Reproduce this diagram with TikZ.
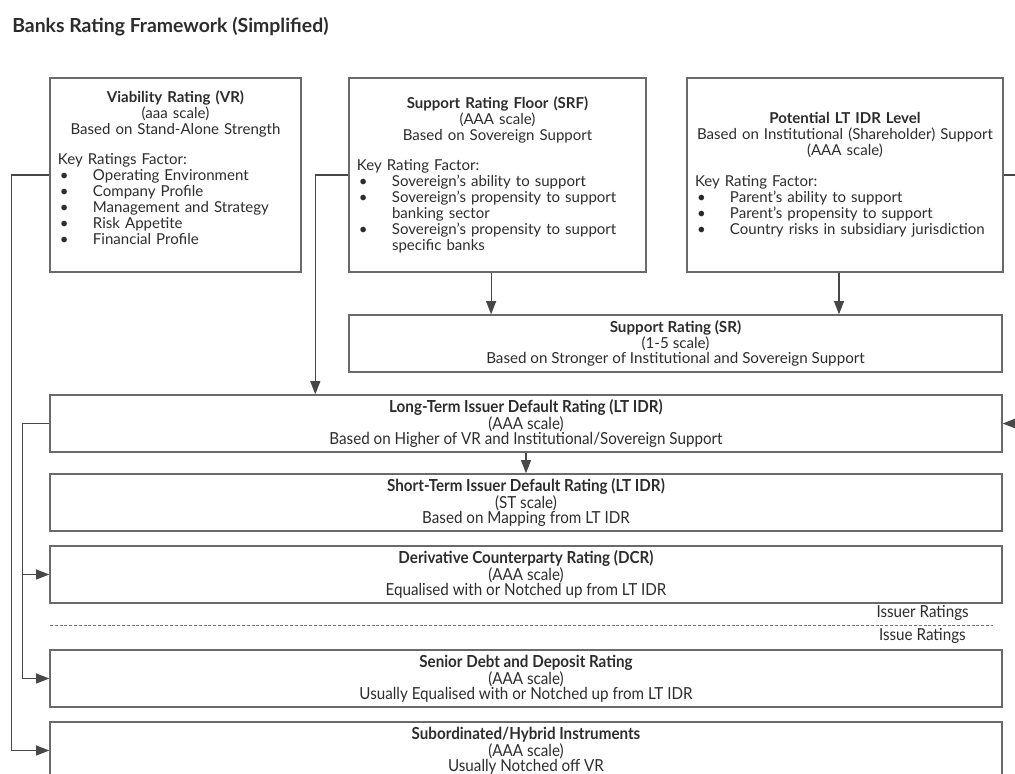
\documentclass[tikz,border=0pt]{standalone}
\usepackage{fontspec}
\setmainfont{Lato}
\newfontfamily\condfont[FakeStretch=0.915]{Lato}
\usetikzlibrary{arrows.meta}
\definecolor{txtgray}{HTML}{2C2C2C}
\definecolor{linegray}{HTML}{6A6A6A}
% bullet item with hanging indent
\newcommand\bul[1]{\par\noindent\hangindent=8.75mm\hangafter=1\makebox[8.75mm][l]{\hspace{0.5mm}\textbullet}#1}
\begin{document}
\begin{tikzpicture}[x=0.25mm,y=-0.25mm,
  topbox/.style={draw=linegray,line width=0.35mm,inner xsep=2mm,inner ysep=0pt,minimum height=48.5mm,align=left,text=txtgray,font=\fontsize{10.7}{11.4}\selectfont},
  lowbox/.style={draw=linegray,line width=0.35mm,minimum width=238mm,minimum height=14.25mm,inner sep=0pt,align=center,text=txtgray,font=\condfont\fontsize{11.8}{10.7}\selectfont},
  srbox/.style={lowbox,minimum width=163.25mm,font=\fontsize{10.8}{10.9}\selectfont},
  lbl/.style={anchor=east,inner sep=0pt,text=txtgray,font=\condfont\fontsize{11.8}{12}\selectfont},
  arr/.style={draw=black!72,line width=0.3mm,-{Triangle[length=3.3mm,width=2.5mm]}},
  link/.style={draw=black!72,line width=0.3mm}]
\path[use as bounding box,clip](0,0)rectangle(1015,774);
\node[anchor=west,inner sep=0pt,text=txtgray,font=\fontsize{13.8}{15}\selectfont\bfseries](title)at(12,27){Banks Rating Framework (Simplified)};
% top row
\node[topbox,text width=58.75mm,minimum width=62.75mm](vr)at(175.5,175){%
{\centering\textbf{Viability Rating (VR)}\par (aaa scale)\par Based on Stand-Alone Strength\par}
\vspace{3.6mm}Key Ratings Factor:
\bul{Operating Environment}
\bul{Company Profile}
\bul{Management and Strategy}
\bul{Risk Appetite}
\bul{Financial Profile}\par\vspace*{3.75mm}};
\node[topbox,text width=70.25mm,minimum width=74.25mm](srf)at(497.5,175){%
{\centering\textbf{Support Rating Floor (SRF)}\par (AAA scale)\par Based on Sovereign Support\par}
\vspace{3.6mm}Key Rating Factor:
\bul{Sovereign’s ability to support}
\bul{Sovereign’s propensity to support\newline banking sector}
\bul{Sovereign’s propensity to support\newline specific banks}\par};
\node[topbox,text width=75mm,minimum width=79mm](pot)at(845,175){%
{\centering\textbf{Potential LT IDR Level}\par Based on Institutional (Shareholder) Support\par (AAA scale)\par}
\vspace{3.6mm}Key Rating Factor:
\bul{Parent’s ability to support}
\bul{Parent’s propensity to support}
\bul{Country risks in subsidiary jurisdiction}\par};
% support rating
\node[srbox](sr)at(675.5,343.5){\textbf{Support Rating (SR)}\\(1-5 scale)\\Based on Stronger of Institutional and Sovereign Support};
% issuer ratings
\node[lowbox](lt)at(526,423.5){\textbf{Long-Term Issuer Default Rating (LT IDR)}\\(AAA scale)\\Based on Higher of VR and Institutional/Sovereign Support};
\node[lowbox](st)at(526,502.5){\textbf{Short-Term Issuer Default Rating (LT IDR)}\\(ST scale)\\Based on Mapping from LT IDR};
\node[lowbox](dcr)at(526,574.5){\textbf{Derivative Counterparty Rating (DCR)}\\(AAA scale)\\Equalised with or Notched up from LT IDR};
\draw[draw=black!55,line width=0.25mm,dash pattern=on 0.75mm off 0.45mm](50,625)--(993,625);
\node[lbl](issuer)at(969,613){Issuer Ratings};
\node[lbl](issue)at(966,636){Issue Ratings};
% issue ratings
\node[lowbox](sen)at(526,678.5){\textbf{Senior Debt and Deposit Rating}\\(AAA scale)\\Usually Equalised with or Notched up from LT IDR};
\node[lowbox](sub)at(526,750.5){\textbf{Subordinated/Hybrid Instruments}\\(AAA scale)\\Usually Notched off VR};
% connectors
\coordinate(offa)at(1025,175);
\coordinate(offb)at(1025,423.5);
\draw[arr](vr.west)--++(-38,0)|-(sub.west);
\draw[arr](srf.west)--++(-33,0)coordinate(srfbend)--(srfbend|-lt.north);
\draw[arr]([xshift=-1.6mm]srf.south)--([xshift=-1.6mm]srf.south|-sr.north);
\draw[arr]([xshift=-1.5mm]pot.south)--([xshift=-1.5mm]pot.south|-sr.north);
\draw[link](pot.east)--(offa);
\draw[arr](offb)--(lt.east);
\draw[arr](lt.south)--(st.north);
\draw[arr](lt.west)--++(-27,0)coordinate(ltbend)|-(sen.west);
\draw[arr](ltbend|-dcr.west)--(dcr.west);
\end{tikzpicture}
\end{document}
